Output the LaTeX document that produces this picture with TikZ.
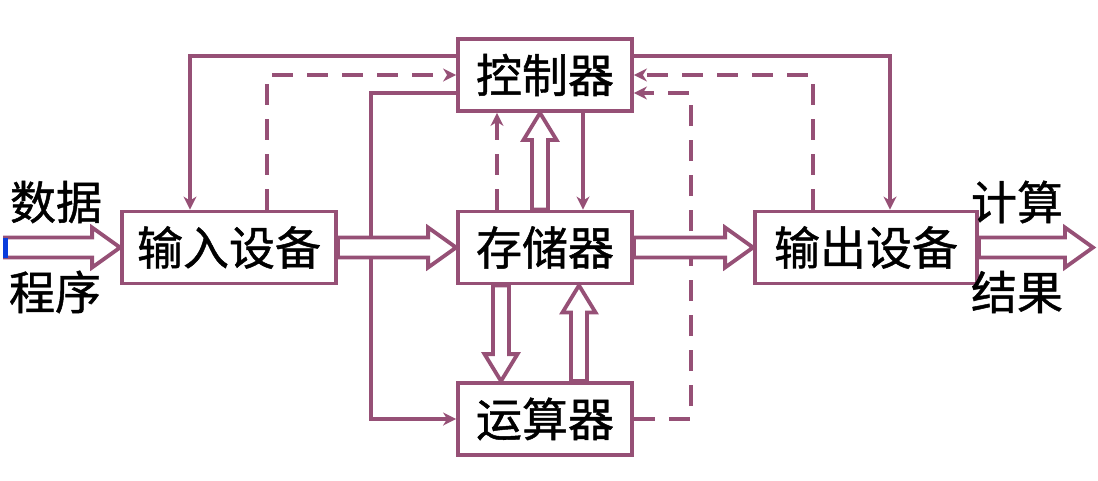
\documentclass[tikz,border=0pt]{standalone}
\usepackage{fontspec}
\newfontfamily\cjk[FakeBold=1]{Noto Sans CJK SC}
\usetikzlibrary{arrows.meta,calc}
\definecolor{pur}{RGB}{150,80,118}
\definecolor{tickblue}{RGB}{10,60,220}
\tikzset{
  box/.style={draw=pur, line width=3.8pt, fill=white, minimum height=72pt, inner sep=0pt, font=\cjk\fontsize{46}{46}\selectfont},
  conn/.style={draw=pur, line width=3.8pt},
  tip/.style={-{Stealth[length=13pt,width=13pt,inset=4pt]}},
  dsh/.style={dash pattern=on 21pt off 14pt},
  hollow/.style={draw=pur, line width=3.8pt, fill=white, line join=miter},
  lbl/.style={font=\cjk\fontsize{46}{46}\selectfont, inner sep=0pt}
}
\newcommand\hollowH[2]{\draw[hollow] let \p1=(#1),\p2=(#2),\p3=($(#2)!28pt!(#1)$) in
  (\x1,\y1+10pt) -- (\x3,\y1+10pt) -- (\x3,\y1+20pt) -- (\x2,\y1) -- (\x3,\y1-20pt) -- (\x3,\y1-10pt) -- (\x1,\y1-10pt) -- cycle;}
\newcommand\hollowV[2]{\draw[hollow] let \p1=(#1),\p2=(#2),\p3=($(#2)!27pt!(#1)$) in
  (\x1+8pt,\y1) -- (\x1+8pt,\y3) -- (\x1+16.5pt,\y3) -- (\x1,\y2) -- (\x1-16.5pt,\y3) -- (\x1-8pt,\y3) -- (\x1-8pt,\y1) -- cycle;}
\begin{document}
\begin{tikzpicture}[x=1pt,y=-1pt]
\useasboundingbox (0,0) rectangle (1098,480);
% boxes
\node[box, minimum width=214pt] (in)  at (229,247.5) {输入设备};
\node[box, minimum width=174pt] (ctl) at (545,75) {控制器};
\node[box, minimum width=174pt] (mem) at (545,247.5) {存储器};
\node[box, minimum width=174pt] (alu) at (545,419) {运算器};
\node[box, minimum width=222pt] (out) at (866,247.5) {输出设备};
% labels
\node[lbl] (l1) at (56,202) {数据};
\node[lbl] (l2) at (55,292) {程序};
\node[lbl] (l3) at (1017,202) {计算};
\node[lbl] (l4) at (1017,292) {结果};
\coordinate (src) at (5,247.5);
\coordinate (dst) at (1093,247.5);
% solid control lines
\draw[conn,tip] ([yshift=19pt]ctl.west) -| ([xshift=-39pt]in.north);
\draw[conn,tip] ([yshift=19pt]ctl.east) -| ([xshift=24pt]out.north);
\draw[conn,tip] ([yshift=-18pt]ctl.west) -- ++(-85pt,0) |- (alu.west);
\draw[conn,tip] ([xshift=38pt]ctl.south) -- ([xshift=38pt]mem.north);
% dashed feedback lines
\draw[conn,dsh,tip] ([xshift=38pt]in.north) |- (ctl.west);
\draw[conn,dsh,tip] ([xshift=-48pt]mem.north) -- ([xshift=-48pt]ctl.south);
\draw[conn,dsh,tip] ([xshift=-53pt]out.north) |- (ctl.east);
\draw[conn,dsh,tip] (alu.east) -- ++(57pt,0) |- ([yshift=-18pt]ctl.east);
% hollow data arrows
\hollowH{src}{in.west}
\hollowH{in.east}{mem.west}
\hollowH{mem.east}{out.west}
\hollowH{out.east}{dst}
\hollowV{[xshift=-5pt]mem.north}{[xshift=-5pt]ctl.south}
\hollowV{[xshift=-44pt]mem.south}{[xshift=-44pt]alu.north}
\hollowV{[xshift=34pt]alu.north}{[xshift=34pt]mem.south}
\fill[tickblue] (3,237.5) rectangle (8,257.5);
\end{tikzpicture}
\end{document}
